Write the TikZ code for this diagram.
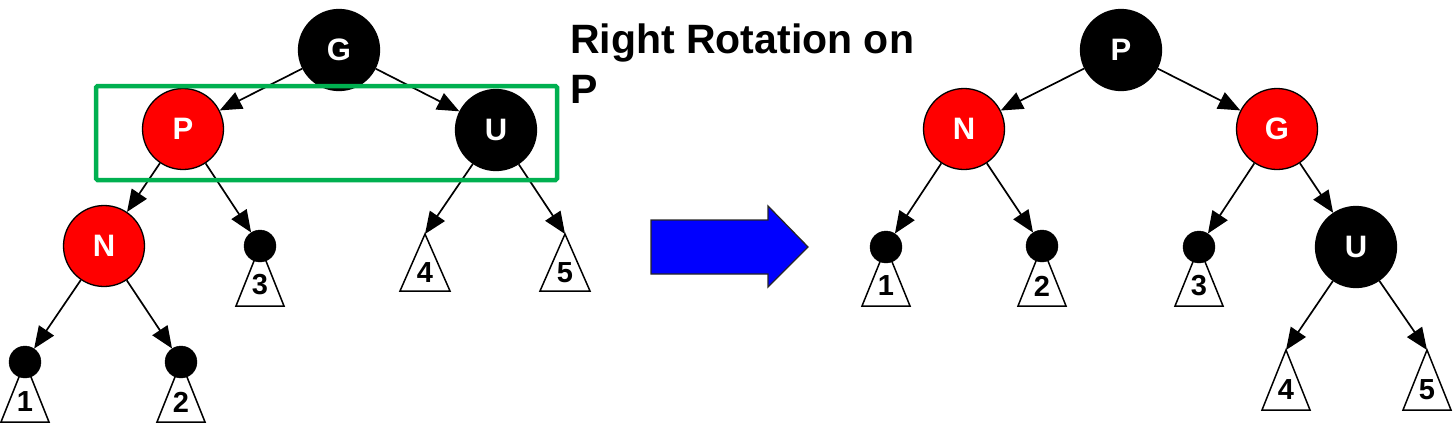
\documentclass[tikz,border=0pt]{standalone}
\usepackage{fontspec}
\setmainfont{Liberation Sans}
\usetikzlibrary{arrows.meta}
\definecolor{rbred}{RGB}{255,0,0}
\definecolor{boxgreen}{RGB}{0,176,80}
\definecolor{arrowblue}{RGB}{0,0,255}
\tikzset{
  rbnode/.style={circle, minimum size=81pt, inner sep=0pt, draw=black, line width=1.3pt,
    text=white, font=\bfseries\fontsize{31}{31}\selectfont},
  rednode/.style={rbnode, fill=rbred},
  blacknode/.style={rbnode, fill=black},
  leafdot/.style={circle, minimum size=32pt, inner sep=0pt, fill=black, draw=black},
  subtree/.style={draw=black, fill=white, line width=1.5pt, line join=miter},
  digit/.style={font=\bfseries\fontsize{29}{29}\selectfont, inner sep=0pt},
  edge/.style={draw=black, line width=1.7pt, -{Triangle[length=22pt,width=18pt]}},
  title/.style={font=\bfseries\fontsize{41}{41}\selectfont, inner sep=0pt, anchor=base west},
}
\begin{document}
\begin{tikzpicture}[x=1pt,y=-1pt]
\useasboundingbox (0,0) rectangle (1453,424);
% ---------- left tree: subtree triangles ----------
\draw[subtree] (25,362) -- (1,422) -- (49,422) -- cycle;
\draw[subtree] (181,362) -- (157,422) -- (205,422) -- cycle;
\draw[subtree] (260,246) -- (236,306) -- (284,306) -- cycle;
\draw[subtree] (425,234) -- (400,291) -- (450,291) -- cycle;
\draw[subtree] (565,234) -- (540,291) -- (590,291) -- cycle;
\coordinate (lT4) at (425,234);
\coordinate (lT5) at (565,234);
\node[digit] (ld1) at (25,402) {1};
\node[digit] (ld2) at (181,402) {2};
\node[digit] (ld3) at (260,285) {3};
\node[digit] (ld4) at (425,273) {4};
\node[digit] (ld5) at (565,273) {5};
% ---------- left tree: nodes ----------
\node[leafdot] (lL1) at (25,362) {};
\node[leafdot] (lL2) at (181,362) {};
\node[leafdot] (lL3) at (260,246) {};
\node[blacknode] (lG) at (339,50) {G};
\node[rednode] (lP) at (183,129) {P};
\node[blacknode] (lU) at (496,130) {U};
\node[rednode] (lN) at (104,246) {N};
% ---------- left tree: edges ----------
\draw[edge] (lG) -- (lP);
\draw[edge] (lG) -- (lU);
\draw[edge] (lP) -- (lN);
\draw[edge] (lP) -- (lL3);
\draw[edge] (lN) -- (lL1);
\draw[edge] (lN) -- (lL2);
\draw[edge] (lU) -- (lT4);
\draw[edge] (lU) -- (lT5);
% ---------- green box ----------
\draw[boxgreen, line width=4.5pt, rounded corners=1.5pt] (96,86) rectangle (557,180);
% ---------- title ----------
\node[title] (t1) at (570,53) {Right Rotation on};
\node[title] (t2) at (570,103) {P};
% ---------- blue arrow ----------
\draw[fill=arrowblue, draw=black!85, line width=1.3pt, line join=miter]
  (651,220) -- (768,220) -- (768,206) -- (808,247) -- (768,287) -- (768,274) -- (651,274) -- cycle;
% ---------- right tree: subtree triangles ----------
\draw[subtree] (886,247) -- (862,306) -- (910,306) -- cycle;
\draw[subtree] (1042,246) -- (1018,306) -- (1066,306) -- cycle;
\draw[subtree] (1199,247) -- (1175,306) -- (1223,306) -- cycle;
\draw[subtree] (1286,350) -- (1262,410) -- (1310,410) -- cycle;
\draw[subtree] (1427,350) -- (1403,410) -- (1451,410) -- cycle;
\coordinate (rT4) at (1286,350);
\coordinate (rT5) at (1427,350);
\node[digit] (rd1) at (886,286) {1};
\node[digit] (rd2) at (1042,286) {2};
\node[digit] (rd3) at (1199,286) {3};
\node[digit] (rd4) at (1286,390) {4};
\node[digit] (rd5) at (1427,390) {5};
% ---------- right tree: nodes ----------
\node[leafdot] (rL1) at (886,247) {};
\node[leafdot] (rL2) at (1042,246) {};
\node[leafdot] (rL3) at (1199,247) {};
\node[blacknode] (rP) at (1121,50) {P};
\node[rednode] (rN) at (964,129) {N};
\node[rednode] (rG) at (1277,129) {G};
\node[blacknode] (rU) at (1356,247) {U};
% ---------- right tree: edges ----------
\draw[edge] (rP) -- (rN);
\draw[edge] (rP) -- (rG);
\draw[edge] (rN) -- (rL1);
\draw[edge] (rN) -- (rL2);
\draw[edge] (rG) -- (rL3);
\draw[edge] (rG) -- (rU);
\draw[edge] (rU) -- (rT4);
\draw[edge] (rU) -- (rT5);
\end{tikzpicture}
\end{document}
